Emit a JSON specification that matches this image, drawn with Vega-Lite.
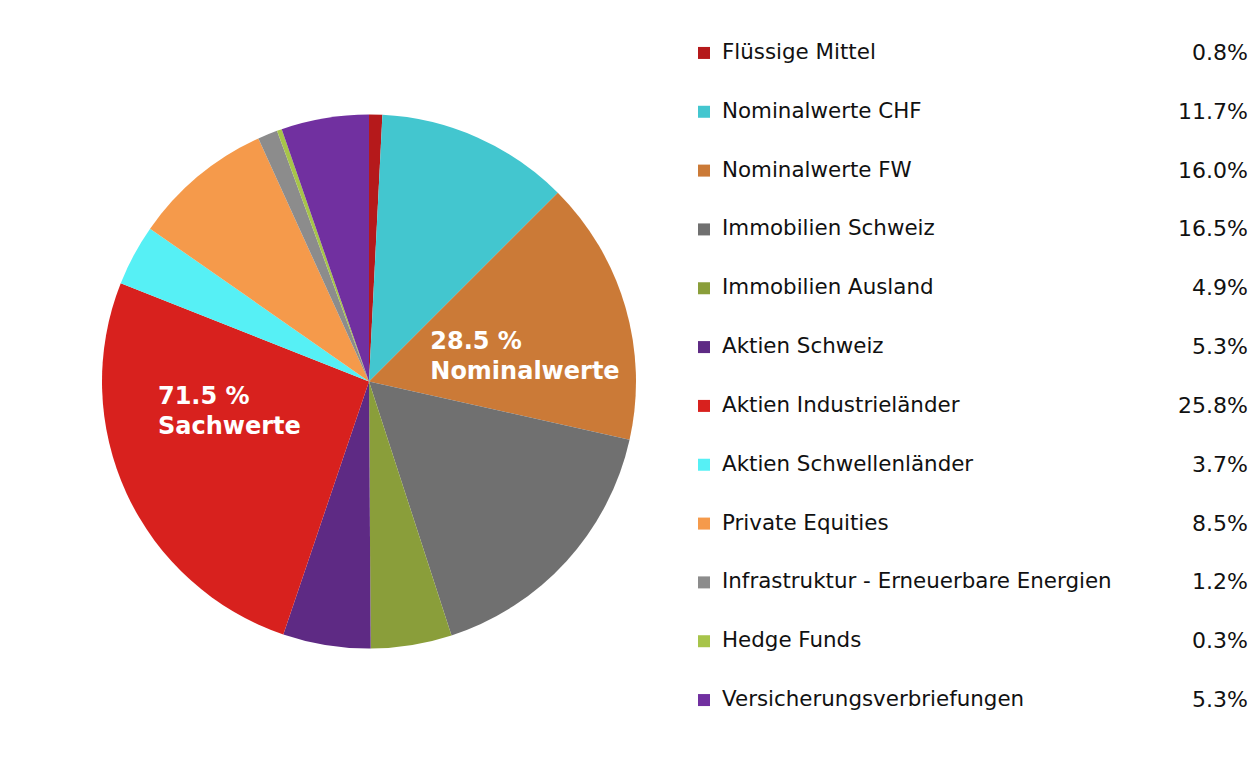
{
  "$schema": "https://vega.github.io/schema/vega-lite/v6.json",
  "description": "Vermögensaufteilung: Kreisdiagramm mit Nominalwerten und Sachwerten, rechts Legende mit Anteilen.",
  "background": "white",
  "padding": {"left": 102, "top": 0, "right": 0, "bottom": 0},
  "spacing": 56,
  "data": {
    "values": [
      {"Nr": 1, "Kategorie": "Flüssige Mittel", "Gruppe": "Nominalwerte", "Anteil": 0.008},
      {"Nr": 2, "Kategorie": "Nominalwerte CHF", "Gruppe": "Nominalwerte", "Anteil": 0.117},
      {"Nr": 3, "Kategorie": "Nominalwerte FW", "Gruppe": "Nominalwerte", "Anteil": 0.160},
      {"Nr": 4, "Kategorie": "Immobilien Schweiz", "Gruppe": "Sachwerte", "Anteil": 0.165},
      {"Nr": 5, "Kategorie": "Immobilien Ausland", "Gruppe": "Sachwerte", "Anteil": 0.049},
      {"Nr": 6, "Kategorie": "Aktien Schweiz", "Gruppe": "Sachwerte", "Anteil": 0.053},
      {"Nr": 7, "Kategorie": "Aktien Industrieländer", "Gruppe": "Sachwerte", "Anteil": 0.258},
      {"Nr": 8, "Kategorie": "Aktien Schwellenländer", "Gruppe": "Sachwerte", "Anteil": 0.037},
      {"Nr": 9, "Kategorie": "Private Equities", "Gruppe": "Sachwerte", "Anteil": 0.085},
      {"Nr": 10, "Kategorie": "Infrastruktur - Erneuerbare Energien", "Gruppe": "Sachwerte", "Anteil": 0.012},
      {"Nr": 11, "Kategorie": "Hedge Funds", "Gruppe": "Sachwerte", "Anteil": 0.003},
      {"Nr": 12, "Kategorie": "Versicherungsverbriefungen", "Gruppe": "Sachwerte", "Anteil": 0.053}
    ]
  },
  "hconcat": [
    {
      "width": 534,
      "height": 763,
      "layer": [
        {
          "mark": {"type": "arc", "stroke": null},
          "encoding": {
            "theta": {"field": "Anteil", "type": "quantitative", "stack": true, "scale": {"domain": [0, 1]}},
            "order": {"field": "Nr", "type": "quantitative"},
            "color": {
              "field": "Kategorie",
              "type": "nominal",
              "legend": null,
              "scale": {
                "domain": ["Flüssige Mittel", "Nominalwerte CHF", "Nominalwerte FW", "Immobilien Schweiz", "Immobilien Ausland", "Aktien Schweiz", "Aktien Industrieländer", "Aktien Schwellenländer", "Private Equities", "Infrastruktur - Erneuerbare Energien", "Hedge Funds", "Versicherungsverbriefungen"],
                "range": ["#b5191b", "#43c6cf", "#cb7a37", "#707070", "#8a9e3a", "#5e2a84", "#d8211e", "#56f0f5", "#f59a4b", "#8c8c8c", "#a7c44a", "#7130a0"]
              }
            },
            "tooltip": [
              {"field": "Kategorie", "type": "nominal"},
              {"field": "Anteil", "type": "quantitative", "format": ".1%"}
            ]
          }
        },
        {
          "transform": [
            {"filter": "datum.Gruppe == 'Nominalwerte'"},
            {"aggregate": [{"op": "sum", "field": "Anteil", "as": "Summe"}], "groupby": ["Gruppe"]},
            {"calculate": "[format(datum.Summe * 100, '.1f') + ' %', datum.Gruppe]", "as": "Beschriftung"}
          ],
          "mark": {"type": "text", "radius": 73, "align": "left", "baseline": "middle", "font": "DejaVu Sans", "fontSize": 24, "fontWeight": "bold", "lineHeight": 30, "color": "white"},
          "encoding": {
            "theta": {"datum": 0.1586, "type": "quantitative"},
            "text": {"field": "Beschriftung"}
          }
        },
        {
          "transform": [
            {"filter": "datum.Gruppe == 'Sachwerte'"},
            {"aggregate": [{"op": "sum", "field": "Anteil", "as": "Summe"}], "groupby": ["Gruppe"]},
            {"calculate": "[format(datum.Summe * 100, '.1f') + ' %', datum.Gruppe]", "as": "Beschriftung"}
          ],
          "mark": {"type": "text", "radius": 211.6, "align": "left", "baseline": "middle", "font": "DejaVu Sans", "fontSize": 24, "fontWeight": "bold", "lineHeight": 30, "color": "white"},
          "encoding": {
            "theta": {"datum": 0.7384, "type": "quantitative"},
            "text": {"field": "Beschriftung"}
          }
        }
      ]
    },
    {
      "width": 560,
      "height": 753,
      "encoding": {
        "y": {"field": "Kategorie", "type": "nominal", "sort": null, "axis": null, "scale": {"type": "point", "padding": 0.9}}
      },
      "layer": [
        {
          "mark": {"type": "square", "size": 144, "opacity": 1},
          "encoding": {
            "x": {"value": 12},
            "color": {"field": "Kategorie", "type": "nominal", "legend": null}
          }
        },
        {
          "mark": {"type": "text", "align": "left", "baseline": "middle", "font": "DejaVu Sans", "fontSize": 21.4, "color": "#111111"},
          "encoding": {
            "x": {"value": 30},
            "text": {"field": "Kategorie"}
          }
        },
        {
          "mark": {"type": "text", "align": "right", "baseline": "middle", "font": "DejaVu Sans", "fontSize": 22, "color": "#111111"},
          "encoding": {
            "x": {"value": 556},
            "text": {"field": "Anteil", "type": "quantitative", "format": ".1%"}
          }
        }
      ]
    }
  ],
  "resolve": {"scale": {"color": "shared"}},
  "config": {"view": {"stroke": null}}
}
